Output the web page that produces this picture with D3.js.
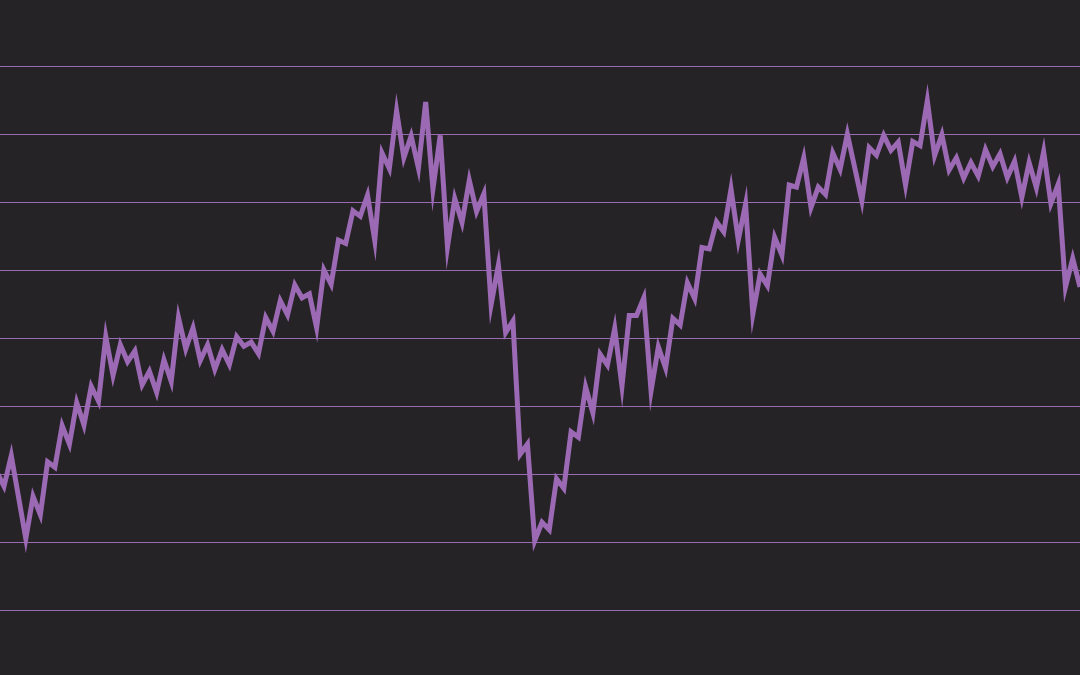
<!DOCTYPE html>
<html><head><meta charset="utf-8">
<script src="https://cdn.jsdelivr.net/npm/d3@7"></script>
<style>html,body{margin:0;padding:0;background:#252326;}</style>
</head><body><svg id="c" width="1080" height="675"></svg>
<script>
// Series values (one per step)
const values = [
  30.3, 28.2, 32.7, 26.6, 20.5, 26.7, 24.0, 31.8, 31.0, 37.1,
  34.4, 40.5, 37.2, 42.9, 40.7, 50.2, 44.5, 49.0, 46.5, 48.1,
  43.1, 45.1, 42.0, 46.8, 43.6, 53.0, 48.4, 51.5, 46.7, 49.0,
  45.4, 48.3, 46.1, 50.2, 48.8, 49.4, 47.7, 53.0, 51.0, 55.5,
  53.4, 57.8, 55.9, 56.5, 51.5, 60.0, 57.9, 64.4, 63.9, 68.7,
  67.9, 71.0, 64.3, 77.2, 74.9, 83.4, 76.5, 79.7, 75.0, 84.7,
  71.9, 79.8, 63.4, 70.5, 67.0, 73.2, 68.6, 71.2, 54.9, 60.7,
  50.8, 52.5, 32.9, 34.4, 20.2, 22.9, 21.8, 29.3, 27.9, 36.2,
  35.4, 42.8, 39.0, 47.6, 46.0, 51.4, 42.9, 53.3, 53.3, 55.9,
  42.2, 48.7, 45.6, 52.9, 51.9, 58.1, 55.8, 63.3, 63.1, 67.1,
  65.6, 71.9, 64.4, 69.7, 53.5, 59.4, 57.7, 64.8, 62.2, 72.5,
  72.2, 76.5, 69.2, 72.2, 71.1, 77.2, 74.8, 80.0, 75.1, 70.2,
  78.0, 76.9, 79.8, 77.6, 78.8, 72.5, 78.9, 78.3, 84.9, 76.8,
  79.9, 74.7, 76.5, 73.5, 75.8, 73.8, 77.7, 75.2, 77.1, 73.6,
  76.0, 70.7, 75.8, 72.1, 77.4, 69.8, 72.6, 57.5, 61.7, 57.5
];
// Gridline (tick) values, drawn without labels
const gridValues = [10, 20, 30, 40, 50, 60, 70, 80, 90];
const yDomain = [0, 100];

const W = 1080, H = 675;
const svg = d3.select("#c");
svg.append("rect").attr("width", W).attr("height", H).attr("fill", "#252326");

const x = d3.scaleLinear().domain([0, values.length - 1]).range([-3.27, W]);
const y = d3.scaleLinear().domain(yDomain).range([678, -2]);

const g = svg.append("g")
  .call(d3.axisRight(y).tickValues(gridValues).tickSize(W).tickFormat(""));
g.select(".domain").remove();
g.selectAll(".tick line").attr("stroke", "#9a6ab4").attr("stroke-width", 1.2);

svg.append("path")
  .datum(values)
  .attr("fill", "none")
  .attr("stroke", "#9c6ab4")
  .attr("stroke-width", 5)
  .attr("stroke-linejoin", "miter")
  .attr("stroke-miterlimit", 10)
  .attr("d", d3.line().x((d, i) => x(i)).y(d => y(d)));
</script></body></html>
